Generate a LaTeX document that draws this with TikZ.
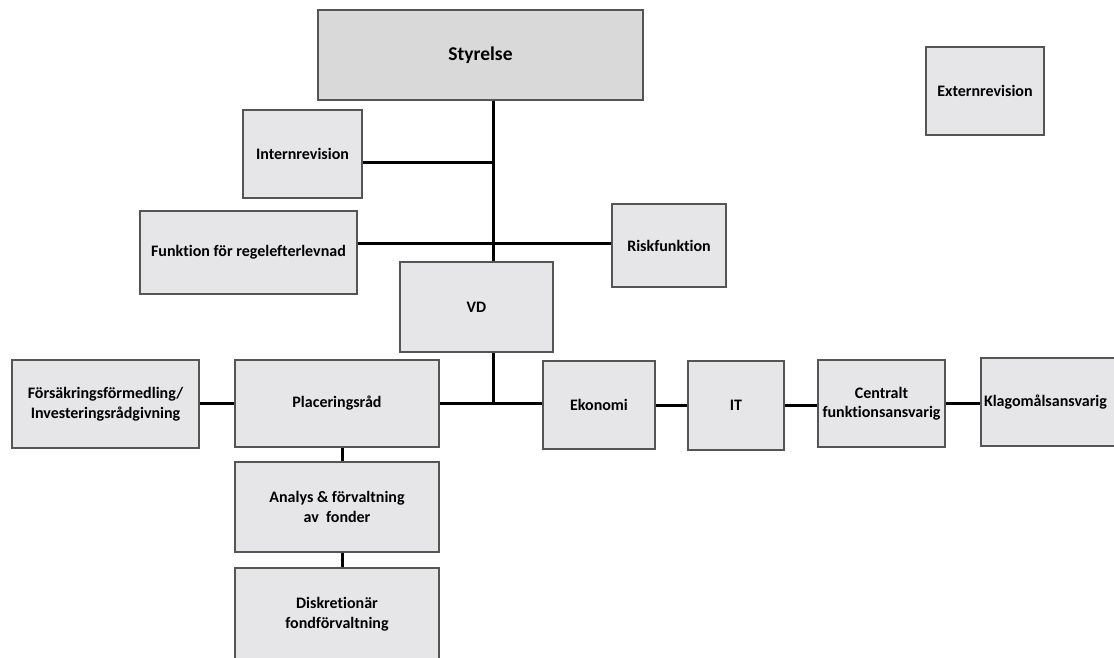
\documentclass[tikz,border=0pt]{standalone}
\usepackage{fontspec}
\setmainfont{Carlito}[Ligatures=NoCommon]
\definecolor{boxfill}{HTML}{E6E5E7}
\definecolor{topfill}{HTML}{D9D9D9}
\definecolor{boxline}{HTML}{555555}
\begin{document}
\begin{tikzpicture}[x=1pt,y=-1pt,
  box/.style={draw=boxline,line width=2pt,fill=boxfill,inner sep=2pt,align=center,
    font=\fontsize{16}{19.5}\selectfont\bfseries},
  conn/.style={line width=3pt,black}]
\useasboundingbox (0,0) rectangle (1114,657);
\node[box,fill=topfill,minimum width=325pt,minimum height=90pt,font=\fontsize{19.5}{22}\selectfont\bfseries] (styr) at (480.5,55) {Styrelse};
\node[box,minimum width=118pt,minimum height=88pt] (ext) at (985,91) {Externrevision};
\node[box,minimum width=119pt,minimum height=88pt] (intern) at (302.5,154) {Internrevision};
\node[box,minimum width=217pt,minimum height=83pt] (funk) at (248.5,252.5) {Funktion för regelefterlevnad};
\node[box,minimum width=114pt,minimum height=83pt] (risk) at (669,245.5) {Riskfunktion};
\node[box,minimum width=153pt,minimum height=90pt] (vd) at (476.5,307) {VD};
\node[box,minimum width=187pt,minimum height=88pt] (fors) at (105.5,404) {Försäkringsförmedling/\\Investeringsrådgivning};
\node[box,minimum width=204pt,minimum height=87pt] (plac) at (337,403.5) {Placeringsråd};
\node[box,minimum width=112pt,minimum height=88pt] (ekon) at (599,405) {Ekonomi};
\node[box,minimum width=96pt,minimum height=89pt] (it) at (736,405.5) {IT};
\node[box,minimum width=127pt,minimum height=87pt] (cent) at (881.5,403.5) {Centralt\\funktionsansvarig};
\node[box,minimum width=140pt,minimum height=88pt,text width=134pt,align=left] (klag) at (1051,402) {Klagomålsansvarig};
\node[box,minimum width=204pt,minimum height=90pt] (anal) at (337,507) {Analys \& förvaltning\\av\ \ fonder};
\node[box,minimum width=204pt,minimum height=92pt] (disk) at (337,614) {Diskretionär\\fondförvaltning};
\coordinate (trunk) at (493,0);
\coordinate (hI) at (493,162);
\coordinate (hF) at (493,243);
\coordinate (hP) at (493,403);
\draw[conn] (trunk |- styr.south) -- (trunk |- vd.north);
\draw[conn] (hI -| intern.east) -- (hI);
\draw[conn] (hF -| funk.east) -- (hF -| risk.west);
\draw[conn] (trunk |- vd.south) -- (hP);
\draw[conn] (hP -| plac.east) -- (hP -| ekon.west);
\draw[conn] (fors.east |- hP) -- (plac.west |- hP);
\draw[conn] (ekon.east) -- (ekon.east -| it.west);
\draw[conn] (it.east) -- (it.east -| cent.west);
\draw[conn] (cent.east) -- (cent.east -| klag.west);
\draw[conn] ([xshift=5pt]plac.south) -- ([xshift=5pt]plac.south |- anal.north);
\draw[conn] ([xshift=5pt]anal.south) -- ([xshift=5pt]anal.south |- disk.north);
\end{tikzpicture}
\end{document}
